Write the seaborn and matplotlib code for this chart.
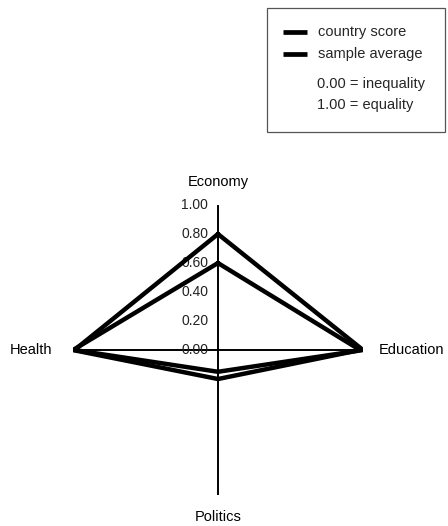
import numpy as np
import pandas as pd
import seaborn as sns
import matplotlib.pyplot as plt
from matplotlib.lines import Line2D
from matplotlib.patches import Rectangle

# four pillars, clockwise from the top
pillars = ['Economy', 'Education', 'Politics', 'Health']
country_score = [0.80, 1.00, 0.15, 0.99]
sample_average = [0.60, 0.98, 0.20, 1.00]
tick_values = [0.00, 0.20, 0.40, 0.60, 0.80, 1.00]
tick_labels = ['0.00', '0.20', '0.40', '0.60', '0.80', '1.00']

sns.set_style('white')
plt.rcParams['font.family'] = ['Liberation Sans Narrow', 'Liberation Sans', 'DejaVu Sans']
plt.rcParams['font.size'] = 10

angles = np.linspace(0, 2 * np.pi, len(pillars) + 1)

rows = []
for name, vals in [('country score', country_score), ('sample average', sample_average)]:
    closed = vals + vals[:1]
    for a, v in zip(angles, closed):
        rows.append({'theta': a, 'r': v, 'series': name})
df = pd.DataFrame(rows)

fig = plt.figure(figsize=(4.48, 5.26), dpi=100)
ax = fig.add_axes([0.1629, 0.0589, 0.6473, 0.5513], projection='polar')
ax.set_theta_zero_location('N')
ax.set_theta_direction(-1)
ax.set_ylim(0, 1)
ax.grid(False)
ax.spines['polar'].set_visible(False)
ax.set_xticks([])
ax.set_yticks([])

# spokes
for a in angles[:-1]:
    ax.plot([a, a], [0, 1], color='black', lw=1.4, solid_capstyle='butt', zorder=1)

sns.lineplot(data=df, x='theta', y='r', hue='series', palette=['black', 'black'],
             sort=False, estimator=None, lw=3.2, legend=False, ax=ax, zorder=3,
             solid_joinstyle='miter')
ax.set_xlabel('')
ax.set_ylabel('')

for v, lab in zip(tick_values, tick_labels):
    ax.annotate(lab, xy=(0, v), xytext=(-7, 0), textcoords='offset points',
                ha='right', va='center', fontsize=10, color='#222222', zorder=2)

label_pos = {
    'Economy': (1.16, 'center', 'center'),
    'Education': (1.11, 'left', 'center'),
    'Politics': (1.15, 'center', 'center'),
    'Health': (1.145, 'right', 'center'),
}
for a, name in zip(angles[:-1], pillars):
    r, ha, va = label_pos[name]
    ax.text(a, r, name, ha=ha, va=va, fontsize=10.5, color='black', clip_on=False)

# legend box
fig.patches.append(Rectangle((0.596, 0.749), 0.397, 0.236, transform=fig.transFigure,
                             fill=False, edgecolor='#555555', lw=0.9))
for y, lab in [(0.940, 'country score'), (0.898, 'sample average')]:
    fig.lines.append(Line2D([0.632, 0.685], [y, y], transform=fig.transFigure,
                            color='black', lw=3.4, solid_capstyle='butt'))
    fig.text(0.710, y, lab, ha='left', va='center', fontsize=10.5)
fig.text(0.708, 0.840, '0.00 = inequality', ha='left', va='center', fontsize=10.5)
fig.text(0.708, 0.800, '1.00 = equality', ha='left', va='center', fontsize=10.5)

plt.savefig('out.png', dpi=100)
